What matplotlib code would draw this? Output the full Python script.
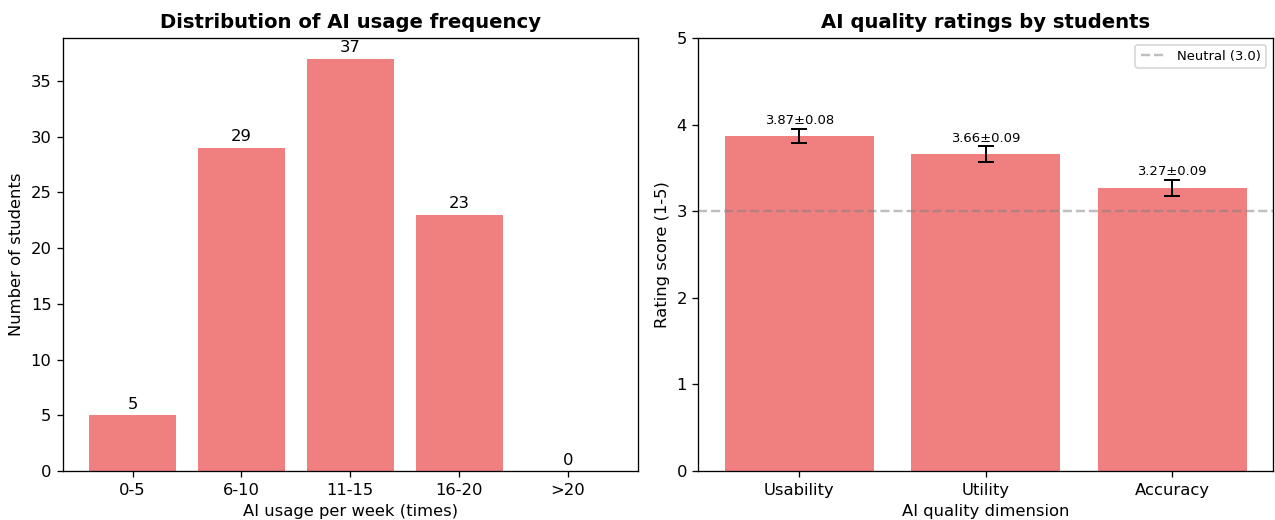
import matplotlib
matplotlib.use("Agg")
import matplotlib.pyplot as plt

# usage frequency data
usage_bins = ["0-5", "6-10", "11-15", "16-20", ">20"]
usage_counts = [5, 29, 37, 23, 0]

# quality ratings
dimensions = ["Usability", "Utility", "Accuracy"]
rating_means = [3.87, 3.66, 3.27]
rating_errs = [0.08, 0.09, 0.09]
neutral = 3.0

dpi = 118
fig, (ax1, ax2) = plt.subplots(1, 2, figsize=(1275 / dpi, 520 / dpi), dpi=dpi)

bars = ax1.bar(usage_bins, usage_counts, color="lightcoral", width=0.8)
for b, v in zip(bars, usage_counts):
    ax1.text(b.get_x() + b.get_width() / 2, v + 0.3, str(v),
             ha="center", va="bottom", fontsize=10)
ax1.set_title("Distribution of AI usage frequency", fontsize=12, fontweight="bold")
ax1.set_xlabel("AI usage per week (times)")
ax1.set_ylabel("Number of students")

bars2 = ax2.bar(dimensions, rating_means, yerr=rating_errs, capsize=5,
                color="lightcoral", width=0.8,
                error_kw={"ecolor": "black", "elinewidth": 1.2, "capthick": 1.2})
for b, m, e in zip(bars2, rating_means, rating_errs):
    ax2.text(b.get_x() + b.get_width() / 2, m + e + 0.02, f"{m:.2f}±{e:.2f}",
             ha="center", va="bottom", fontsize=8)
ax2.axhline(neutral, color="gray", linestyle="--", alpha=0.5, label="Neutral (3.0)")
ax2.set_ylim(0, 5)
ax2.set_title("AI quality ratings by students", fontsize=12, fontweight="bold")
ax2.set_xlabel("AI quality dimension")
ax2.set_ylabel("Rating score (1-5)")
ax2.legend(loc="upper right", fontsize=8)

plt.subplots_adjust(left=0.0494, right=0.9984, top=0.927, bottom=0.094, wspace=0.106)
plt.savefig("out.png")
